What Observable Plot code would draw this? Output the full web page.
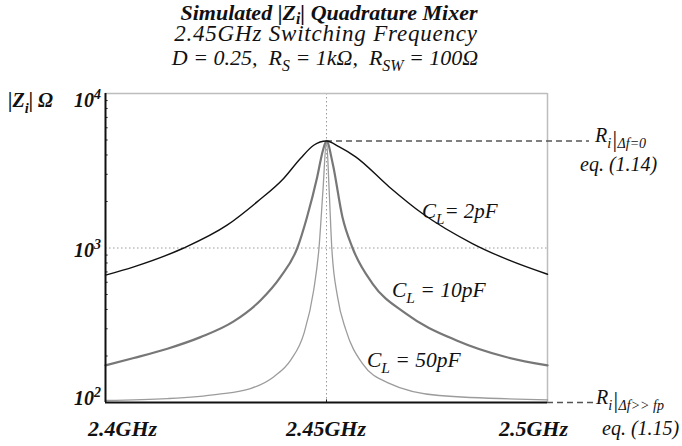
<!DOCTYPE html>
<html>
<head>
<meta charset="utf-8">
<script src="https://cdn.jsdelivr.net/npm/d3@7"></script>
<script src="https://cdn.jsdelivr.net/npm/@observablehq/plot@0.6"></script>
<style>
  html, body { margin: 0; padding: 0; background: #fff; }
  svg text { white-space: pre; }
</style>
</head>
<body>
<div id="chart"></div>
<script>
// ---- data ----
const peakValue = 4930; // |Zi| at 2.45 GHz (all curves)

const freq2pF = [2.4, 2.4064, 2.4177, 2.4275, 2.4343, 2.4403, 2.4441, 2.4471, 2.45, 2.4529, 2.4566, 2.4642, 2.4717, 2.483, 2.4913, 2.5];
const z2pF    = [667, 755, 1000, 1405, 1988, 2818, 3795, 4626, 4930, 4510, 3890, 2485, 1671, 1069, 834, 676];

const freq10pF = [2.4, 2.4064, 2.414, 2.4215, 2.429, 2.4351, 2.4396, 2.4434, 2.4456, 2.4479, 2.4492, 2.45, 2.4514, 2.4536, 2.4559, 2.4604, 2.4679, 2.4793, 2.4906, 2.5];
const z10pF    = [174, 194, 223, 265, 335, 459, 650, 1000, 1589, 2884, 4296, 4930, 3524, 1589, 1000, 589, 377, 253, 197, 174];

const freq50pF = [2.4, 2.414, 2.4253, 2.4328, 2.4381, 2.4419, 2.4449, 2.4471, 2.4483, 2.4492, 2.45, 2.4506, 2.4512, 2.4525, 2.4544, 2.4581, 2.4642, 2.4755, 2.5];
const z50pF    = [103, 106, 113, 123, 147, 188, 280, 533, 1000, 2366, 4930, 2366, 1000, 482, 294, 179, 133, 111, 104];

const xTicks = [2.4, 2.45, 2.5];
const xTickLabels = ["2.4GHz", "2.45GHz", "2.5GHz"];
const yTicks = [100, 1000, 10000];
const yTickExponents = ["2", "3", "4"];
const yMinorTicks = [200,300,400,500,600,700,800,900,2000,3000,4000,5000,6000,7000,8000,9000];

const toRows = (f, z) => f.map((v, i) => ({f: v, z: z[i]}));
const rows2 = toRows(freq2pF, z2pF);
const rows10 = toRows(freq10pF, z10pF);
const rows50 = toRows(freq50pF, z50pF);

const serif = '"Liberation Serif", "Times New Roman", Times, serif';

const plot = Plot.plot({
  width: 682,
  height: 446,
  marginLeft: 105,
  marginRight: 135,
  marginTop: 93,
  marginBottom: 44,
  x: {domain: [2.4, 2.5], axis: null},
  y: {type: "log", domain: [100, 10000], axis: null},
  style: {background: "white", overflow: "visible", fontFamily: serif},
  marks: [
    Plot.ruleY([1000], {stroke: "#9a9a9a", strokeWidth: 1, strokeDasharray: "1.5,2.5"}),
    Plot.ruleX([2.45], {stroke: "#9a9a9a", strokeWidth: 1, strokeDasharray: "1.5,2.5"}),
    Plot.ruleY([10000], {stroke: "#bdbdbd", strokeWidth: 1.5}),
    Plot.ruleX([2.5], {stroke: "#bdbdbd", strokeWidth: 1.5}),
    Plot.ruleY([peakValue], {x1: 2.45, x2: 2.5095, stroke: "#555", strokeWidth: 1.5, strokeDasharray: "6,4"}),
    Plot.ruleY([100], {x1: 2.5, x2: 2.5112, stroke: "#555", strokeWidth: 1.5, strokeDasharray: "6,4"}),
    Plot.line(rows50, {x: "f", y: "z", stroke: "#9c9c9c", strokeWidth: 1.3, curve: "monotone-x"}),
    Plot.line(rows10, {x: "f", y: "z", stroke: "#777", strokeWidth: 2.2, curve: "monotone-x"}),
    Plot.line(rows2, {x: "f", y: "z", stroke: "#111", strokeWidth: 1.4, curve: "monotone-x"}),
    Plot.ruleY(yMinorTicks, {x1: 2.4, x2: 2.4006, stroke: "#222", strokeWidth: 1}),
    Plot.ruleX([2.45], {y1: 100, y2: 104, stroke: "#222", strokeWidth: 1}),
    Plot.ruleX([2.4], {stroke: "#111", strokeWidth: 2}),
    Plot.ruleY([100], {stroke: "#111", strokeWidth: 2})
  ]
});

document.getElementById("chart").appendChild(plot);

const svg = d3.select(plot);
const xs = plot.scale("x");
const ys = plot.scale("y");
const X = v => xs.apply(v);
const Y = v => ys.apply(v);

// rich text helper with sub/superscripts
function rich(x, y, parts, opt = {}) {
  const size = opt.size || 20;
  const subOff = opt.subOff != null ? opt.subOff : 0.28;
  const t = svg.append("text")
    .attr("x", x).attr("y", y)
    .attr("text-anchor", opt.anchor || "start")
    .attr("font-family", serif)
    .attr("font-style", opt.style || "italic")
    .attr("font-weight", opt.weight || "normal")
    .attr("font-size", size)
    .attr("letter-spacing", opt.spacing || 0)
    .attr("fill", opt.fill || "#111");
  let cur = 0;
  for (const [txt, kind] of parts) {
    let off = 0, fs = size;
    if (kind === "sub") { off = subOff * size; fs = 0.72 * size; }
    else if (kind === "sup") { off = -0.42 * size; fs = 0.7 * size; }
    else if (kind === "subsmall") { off = 0.3 * size; fs = 0.7 * size; }
    else if (kind === "bar") { off = 0.22 * size; fs = 1.15 * size; }
    t.append("tspan").attr("dy", off - cur).attr("font-size", fs).text(txt);
    cur = off;
  }
  return t;
}

// titles
rich(329, 20, [["Simulated |Z"], ["i", "sub"], ["| Quadrature Mixer"]], {anchor: "middle", weight: "bold", size: 22, subOff: 0.18});
rich(326, 41, [["2.45GHz Switching Frequency"]], {anchor: "middle", size: 23, spacing: 0.8});
rich(325, 65, [["D = 0.25,  R"], ["S", "sub"], [" = 1kΩ,  R"], ["SW", "sub"], [" = 100Ω"]], {anchor: "middle", size: 22});

// y axis label
rich(8, 107, [["|Z"], ["i", "sub"], ["| Ω"]], {weight: "bold", size: 20});

// y tick labels
const yBase = [405, 257, 107];
yTicks.forEach((v, i) => {
  rich(X(2.4) - 4, yBase[i], [["10"], [yTickExponents[i], "sup"]], {anchor: "end", weight: "bold", size: 20});
});

// x tick labels
const xAnchors = ["start", "middle", "end"];
const xOffsets = [-17, 0, 21];
xTicks.forEach((v, i) => {
  rich(X(v) + xOffsets[i], 436, [[xTickLabels[i]]], {anchor: xAnchors[i], weight: "bold", size: 22});
});

// right annotations
const xr = X(2.5);
rich(xr + 48, Y(peakValue) + 2, [["R"], ["i", "sub"], ["|", "bar"], ["Δf=0", "subsmall"]], {size: 20});
rich(xr + 33, Y(peakValue) + 31, [["eq. (1.14)"]], {size: 20});
rich(xr + 49, Y(100) + 2, [["R"], ["i", "sub"], ["|", "bar"], ["Δf>> fp", "subsmall"]], {size: 20});
rich(xr + 55, Y(100) + 33, [["eq. (1.15)"]], {size: 20});

// curve labels
rich(422, 218, [["C"], ["L", "sub"], ["= 2pF"]], {size: 21});
rich(392, 297, [["C"], ["L", "sub"], [" = 10pF"]], {size: 21.5});
rich(367, 367, [["C"], ["L", "sub"], [" = 50pF"]], {size: 21.5});
</script>
</body>
</html>
